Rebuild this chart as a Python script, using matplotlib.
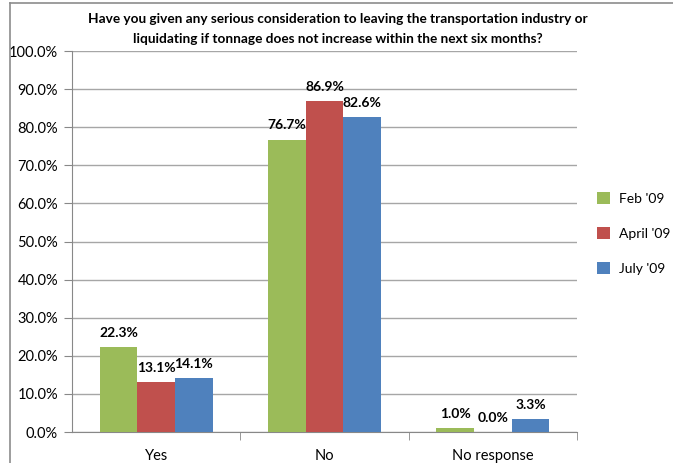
import matplotlib
matplotlib.use("Agg")
import matplotlib.pyplot as plt
from matplotlib.lines import Line2D
from matplotlib.patches import Patch
import numpy as np

plt.rcParams['font.family'] = ['Lato', 'DejaVu Sans']

categories = ["Yes", "No", "No response"]
series_names = ["Feb '09", "April '09", "July '09"]
feb = [22.3, 76.7, 1.0]
april = [13.1, 86.9, 0.0]
july = [14.1, 82.6, 3.3]
colors = ["#9BBB59", "#C0504D", "#4F81BD"]
title = ("Have you given any serious consideration to leaving the transportation industry or\n"
         "liquidating if tonnage does not increase within the next six months?")

fig = plt.figure(figsize=(6.73, 4.63), dpi=100)
ax = fig.add_axes([72 / 673, 1 - 432 / 463, (577 - 72) / 673, (432 - 51) / 463])

x = np.arange(len(categories))
w = 0.224
for i, (vals, c) in enumerate(zip([feb, april, july], colors)):
    pos = x + (i - 1) * w
    ax.bar(pos, vals, width=w, color=c, zorder=3)
    for p, v in zip(pos, vals):
        ax.text(p, v + 2.2, f"{v:.1f}%", ha="center", va="bottom",
                fontsize=10, fontweight="bold", color="black", zorder=4)

ax.set_xlim(-0.5, 2.5)
ax.set_ylim(0, 100)
ax.set_yticks(np.arange(0, 101, 10))
ax.set_yticklabels([f"{t:.1f}%" for t in np.arange(0, 101, 10)], fontsize=10.5)
ax.yaxis.grid(True, color="#A6A6A6", linewidth=1, zorder=0)

# category labels in the middle, tick marks at the boundaries
ax.set_xticks(x)
ax.set_xticklabels(categories, fontsize=10.5)
ax.tick_params(axis="x", length=0, pad=12)
ax.set_xticks([0.5, 1.5, 2.5], minor=True)
ax.tick_params(axis="x", which="minor", length=6, color="#888888")
ax.tick_params(axis="y", length=6, color="#888888", pad=4)

for side in ["top", "right"]:
    ax.spines[side].set_visible(False)
ax.spines["left"].set_color("#888888")
ax.spines["bottom"].set_color("#888888")

fig.text(338 / 673, 1 - 29 / 463, title, ha="center", va="center",
         fontsize=9.8, fontweight="bold", linespacing=1.85)

handles = [Patch(facecolor=c, edgecolor="none") for c in colors]
fig.legend(handles, series_names, loc="upper left", bbox_to_anchor=(597 / 673, 1 - 192 / 463),
           frameon=False, fontsize=10, handlelength=0.95, handleheight=0.95,
           labelspacing=1.6, handletextpad=0.6, borderpad=0, borderaxespad=0)

# outer chart border (top and left edges)
fig.add_artist(Line2D([10 / 673, 10 / 673], [0, 1 - 3 / 463], color="#8C8C8C", linewidth=1.2))
fig.add_artist(Line2D([10 / 673, 1], [1 - 3 / 463, 1 - 3 / 463], color="#8C8C8C", linewidth=1.2))

fig.savefig("out.png", dpi=100)
